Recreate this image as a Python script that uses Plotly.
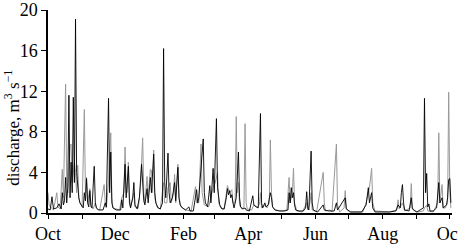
import pandas as pd
import plotly.graph_objects as go

START = "2000-10-01"

# day offsets from 1 Oct and discharge (m3/s)
black_days = [0,2,3.6,5,8,10,12,13,14,15,16,17,18,19,20,21,22,23,24,25,26,27,28,29,30,32,33,34,35,36,37,38,39,40,42,43,44,46,50,52,53,55,56,57,58,59,62,66,67,68,70,71,73,74,75,77,78,79,81,83,85,86,87,88,90,91,93,94,96,97,98,100,102,104,105,106,107,109,110,111,113,115,116,118,119,120,122,125,128,129,132,135,136,137,139,141,142,143,145,147,148,150,151,153,154,155,156,158,160,162,163,164,165,166,167,168,169,171,173,174,175,177,179,180,183,186,187,189,191,193,194,195,197,198,200,202,203,204,206,210,215,218,219,220,221,222,223,224,225,228,232,234,235,236,237,239,240,241,245,250,251,255,260,262,263,270,271,275,285,289,291,292,294,295,297,310,316,318,320,321,322,323,324,328,330,331,335,341,342,343,344,345,346,347,350,353,355,356,358,359,362,363,364,365,366]
black_vals = [0.4,0.3,1.6,0.4,0.5,0.9,0.4,2.0,0.8,1.2,3.5,1.0,2.5,11.6,1.5,5.0,2.0,11.4,3.0,19.1,4.0,2.5,1.5,1.0,0.8,0.5,2.0,1.2,3.4,1.0,0.6,2.2,0.7,0.5,4.6,1.0,0.5,0.3,0.3,1.0,0.6,11.3,2.0,6.0,1.0,0.5,0.3,0.3,1.3,0.5,4.8,1.5,4.6,1.0,0.5,1.5,3.0,0.8,0.4,1.5,4.8,2.5,1.2,0.8,2.4,1.0,3.5,2.0,5.8,2.0,1.0,0.5,0.4,1.0,16.2,3.0,1.5,5.9,2.0,1.0,1.5,3.0,1.2,4.5,1.5,0.8,0.5,0.3,0.6,0.2,0.2,2.3,1.0,1.5,4.0,7.3,2.0,1.0,0.6,2.7,1.0,4.4,2.0,9.3,2.5,1.5,0.8,0.4,0.4,1.5,2.4,1.8,2.2,1.5,1.8,1.0,0.5,1.5,6.0,1.5,0.6,0.4,0.5,0.3,0.2,1.7,0.8,0.6,0.5,9.8,1.0,0.5,1.0,0.6,0.8,2.0,1.5,0.6,0.3,0.2,0.2,0.3,2.0,1.0,2.5,1.5,2.0,0.8,0.3,0.2,0.2,0.5,2.1,0.5,0.3,6.1,1.0,0.3,0.1,0.8,0.3,0.2,0.2,1.0,0.3,1.5,0.4,0.1,0.1,0.8,2.5,1.0,2.0,0.5,0.1,0.1,0.2,0.8,0.5,2.0,2.8,1.0,0.3,0.2,1.5,0.4,0.1,0.5,11.3,2.0,3.9,0.6,0.9,0.2,0.2,0.5,3.0,1.0,1.5,0.5,0.8,1.5,3.3,3.4,1.0]

gray_days = [0,1,3,5,8,9,11,13,14,16,17,18,20,21,22,24,25,26,27,28,29,31,33,34,35,36,38,39,41,43,44,47,51,52,53,55,57,58,59,62,65,67,69,70,71,72,73,74,75,78,79,82,84,86,87,88,90,91,93,94,95,96,97,99,102,105,106,108,109,111,112,114,115,116,118,119,121,125,130,134,135,137,139,140,142,146,148,150,152,154,155,157,160,163,165,167,168,170,171,172,173,174,176,178,179,180,181,185,187,190,192,193,194,197,199,201,202,203,204,207,212,217,219,220,222,223,224,226,231,235,236,238,239,240,244,250,251,252,256,258,262,263,265,269,270,271,274,286,289,290,292,294,295,297,310,317,318,319,322,324,329,330,331,333,336,341,342,344,345,350,354,355,356,358,359,361,363,364,365,366]
gray_vals = [2.0,0.8,0.5,0.3,2.0,0.6,0.4,4.3,1.5,12.7,3.0,2.0,6.5,6.8,3.0,5.0,4.0,2.0,4.7,1.5,1.0,0.6,10.2,2.0,3.5,1.0,2.4,0.6,0.4,1.0,0.4,0.3,2.8,1.0,0.5,3.0,7.9,1.5,0.5,0.4,0.3,1.5,2.0,6.5,2.0,2.0,5.0,1.5,0.6,2.0,0.6,0.5,2.5,7.4,2.0,1.0,3.6,1.5,4.3,4.2,2.0,6.2,1.5,0.6,0.4,3.0,1.0,1.0,2.5,3.0,1.0,2.0,3.8,1.0,4.8,1.5,0.6,0.3,0.2,2.6,1.0,1.0,6.8,2.0,0.8,0.6,1.5,2.5,3.0,4.0,1.0,0.5,0.4,2.7,2.0,2.3,1.0,1.0,9.5,2.0,3.0,0.8,0.4,0.6,8.8,1.0,0.4,0.3,0.8,0.6,0.8,2.0,0.5,0.8,0.5,1.0,7.2,2.0,0.6,0.3,0.2,0.3,3.5,1.0,2.0,4.4,1.0,0.2,0.1,1.0,0.3,1.0,2.0,0.3,0.1,4.0,1.0,0.2,0.3,0.1,6.8,0.8,0.1,0.5,2.2,0.4,0.1,0.1,1.0,1.5,2.5,4.4,1.0,0.2,0.1,0.3,1.3,0.4,1.0,0.2,0.5,2.9,0.5,0.2,0.1,0.2,0.5,0.8,0.2,0.1,1.0,7.9,1.0,2.8,0.5,0.5,1.0,11.9,2.0,0.5]

y_ticks = [0, 4, 8, 12, 16, 20]
y_title = "discharge, m<sup>3</sup> s<sup>−1</sup>"

start = pd.Timestamp(START)
to_dates = lambda ds: [start + pd.Timedelta(days=d) for d in ds]

fig = go.Figure()
fig.add_trace(go.Scatter(x=to_dates(gray_days), y=gray_vals, mode="lines",
                         line=dict(color="#999999", width=1), showlegend=False))
fig.add_trace(go.Scatter(x=to_dates(black_days), y=black_vals, mode="lines",
                         line=dict(color="#000000", width=0.9), showlegend=False))

font = dict(family="Liberation Serif, Times New Roman, serif", size=18, color="black")
tfont = dict(family="Liberation Serif, Times New Roman, serif", size=17, color="black")
fig.update_layout(
    width=458, height=244,
    margin=dict(l=48, r=6, t=10, b=31),
    paper_bgcolor="white", plot_bgcolor="white",
    font=font,
    xaxis=dict(
        type="date",
        range=[start, start + pd.Timedelta(days=367)],
        tick0=START, dtick="M2", tickformat="%b",
        ticks="outside", ticklen=4, tickwidth=1, tickcolor="black",
        minor=dict(dtick="M1", ticks="outside", ticklen=4, tickcolor="black", showgrid=False),
        showline=True, linecolor="black", linewidth=1.5,
        showgrid=False, zeroline=False, automargin=False,
        ticklabeloverflow="allow",
        tickfont=font,
    ),
    yaxis=dict(
        range=[0, 20], tickvals=y_ticks,
        ticks="outside", ticklen=5, tickwidth=1, tickcolor="black",
        showline=True, linecolor="black", linewidth=1.5,
        showgrid=False, zeroline=False, automargin=False,
        tickfont=font,
    ),
    annotations=[dict(
        text=y_title, textangle=-90, font=tfont,
        xref="paper", yref="paper", x=0, y=0.42,
        xanchor="center", yanchor="middle", xshift=-36, showarrow=False,
    )],
)
fig.write_html("out.html")
